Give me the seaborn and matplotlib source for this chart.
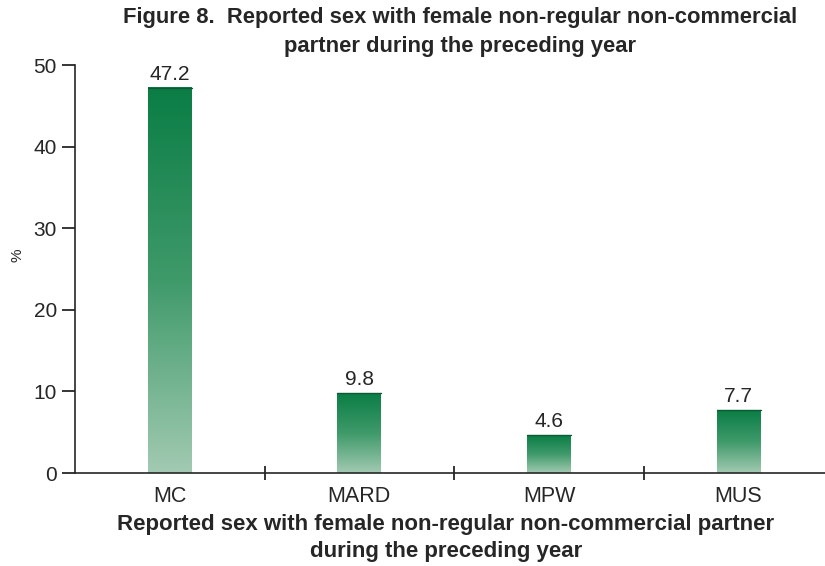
import numpy as np
import pandas as pd
import seaborn as sns
import matplotlib.pyplot as plt
from matplotlib.colors import LinearSegmentedColormap

categories = ["MC", "MARD", "MPW", "MUS"]
values = [47.2, 9.8, 4.6, 7.7]
y_ticks = [0, 10, 20, 30, 40, 50]

title = "Figure 8.  Reported sex with female non-regular non-commercial\npartner during the preceding year"
x_title = "Reported sex with female non-regular non-commercial partner\nduring the preceding year"

sns.set_theme(style="white")
plt.rcParams["font.family"] = ["Liberation Sans", "DejaVu Sans"]

ink = "#262626"
df = pd.DataFrame({"group": categories, "pct": values})

fig = plt.figure(figsize=(8.25, 5.66), dpi=100)
ax = fig.add_axes([0.0909, 0.1643, 0.9091, 0.7208])

sns.barplot(data=df, x="group", y="pct", ax=ax, width=0.232,
            color="#0a7d45", saturation=1)

# vertical green gradient inside each bar: dark at top, pale at bottom
cmap = LinearSegmentedColormap.from_list("bar_green", ["#a2cab2", "#3f9a6a", "#0a7d45"])
grad = np.linspace(0, 1, 256).reshape(-1, 1)
for patch in ax.patches:
    x0, w, h = patch.get_x(), patch.get_width(), patch.get_height()
    patch.set_facecolor("none")
    patch.set_edgecolor("none")
    ax.imshow(grad, cmap=cmap, origin="lower", aspect="auto",
              extent=(x0, x0 + w, 0, h), zorder=2, interpolation="bilinear")
    ax.plot([x0, x0 + w], [h, h], color="#0b5a33", lw=1.0, zorder=3)

ax.bar_label(ax.containers[0], labels=[f"{v:.1f}" for v in values],
             padding=3, fontsize=15, color=ink)

ax.set_xlim(-0.5, 3.456)
ax.set_ylim(0, 50)
ax.set_yticks(y_ticks)
ax.set_xticks(range(len(categories)))
ax.set_xticklabels(categories)
ax.set_xticks([0.5, 1.5, 2.5], minor=True)

ax.tick_params(axis="x", which="major", length=0, labelsize=15.5, pad=9, colors=ink)
ax.tick_params(axis="x", which="minor", length=10, width=1.3, direction="inout", color=ink, bottom=True)
ax.tick_params(axis="y", length=9.4, width=1.3, direction="out", labelsize=15, pad=3.6,
               colors=ink, left=True)

for side in ("top", "right"):
    ax.spines[side].set_visible(False)
for side in ("left", "bottom"):
    ax.spines[side].set_color(ink)
    ax.spines[side].set_linewidth(1.2)

ax.set_ylabel("")
ax.set_xlabel("")
fig.text(17 / 825, 1 - 255 / 566, "%", rotation=90, ha="center", va="center",
         fontsize=11, color=ink)

fig.text(446 / 825, 1 - 514 / 566, x_title, ha="center", va="top", fontsize=16,
         fontweight="bold", color=ink, linespacing=1.4)

fig.text(460 / 825, 1 - 7 / 566, title, ha="center", va="top", fontsize=15.8,
         fontweight="bold", color=ink, linespacing=1.5)

fig.savefig("out.png", dpi=100)
